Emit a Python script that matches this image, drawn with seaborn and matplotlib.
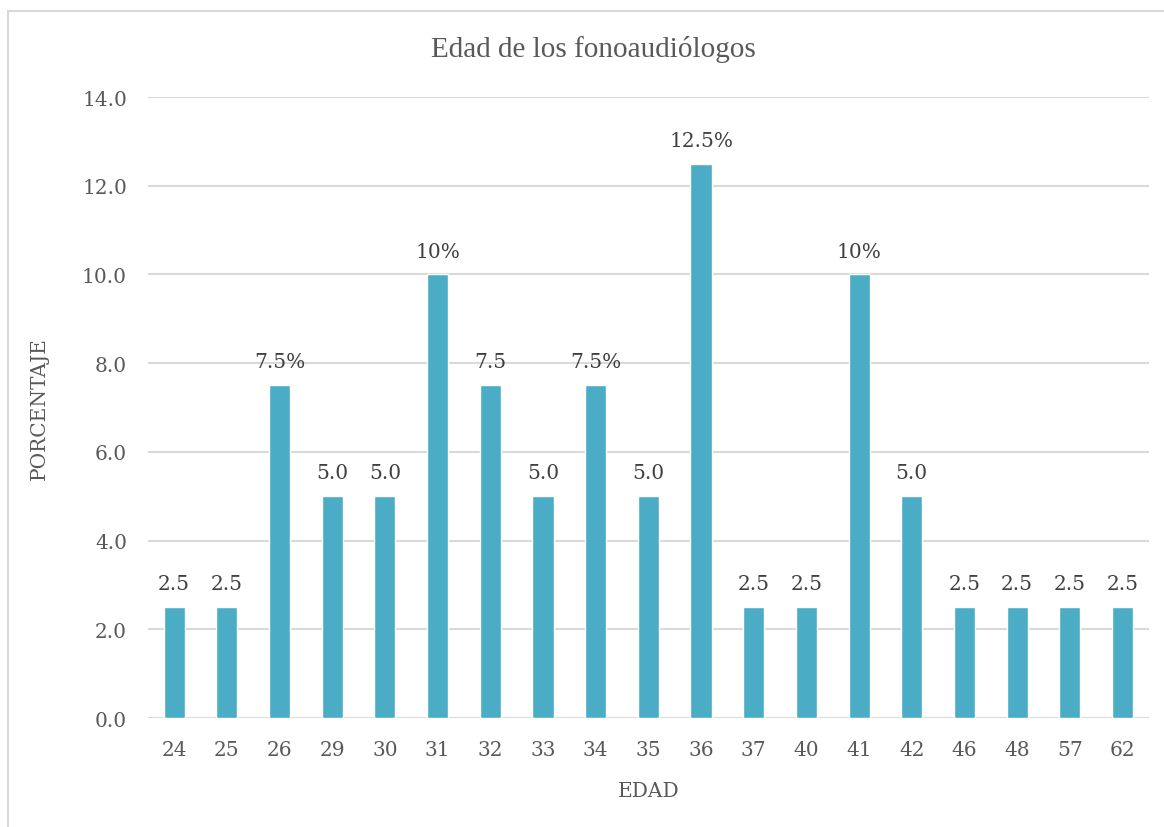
import matplotlib
matplotlib.use('Agg')
import matplotlib.pyplot as plt
import matplotlib.patches as mpatches
import seaborn as sns

# DATA ------------
edades = ['24', '25', '26', '29', '30', '31', '32', '33', '34', '35',
          '36', '37', '40', '41', '42', '46', '48', '57', '62']
porcentajes = [2.5, 2.5, 7.5, 5.0, 5.0, 10.0, 7.5, 5.0, 7.5, 5.0,
               12.5, 2.5, 2.5, 10.0, 5.0, 2.5, 2.5, 2.5, 2.5]
etiquetas = ['2.5', '2.5', '7.5%', '5.0', '5.0', '10%', '7.5', '5.0', '7.5%', '5.0',
             '12.5%', '2.5', '2.5', '10%', '5.0', '2.5', '2.5', '2.5', '2.5']
yticks = [0, 2, 4, 6, 8, 10, 12, 14]

BAR_COLOR = '#4BACC6'
TEXT_COLOR = '#595959'
GRID_COLOR = '#D9D9D9'

sns.set_style('white')
plt.rcParams['font.family'] = ['DejaVu Serif']

fig = plt.figure(figsize=(11.64, 8.28), dpi=100)
ax = fig.add_axes([0.127, 0.1316, 0.86, 0.75])

ax.yaxis.grid(True, color=GRID_COLOR, linewidth=1.5, zorder=0)
ax.set_axisbelow(True)
sns.barplot(x=edades, y=porcentajes, order=edades, color=BAR_COLOR,
            saturation=1, width=0.4, ax=ax, zorder=2)

ax.bar_label(ax.containers[0], labels=etiquetas, padding=10,
             fontsize=14.5, color='#404040')

ax.set_ylim(0, 14)
ax.set_yticks(yticks)
ax.set_yticklabels([f'{v:.1f}' for v in yticks])
ax.set_xlim(-0.5, len(edades) - 0.5)
for s in ax.spines.values():
    s.set_visible(False)
ax.tick_params(axis='both', length=0, labelsize=14.5, colors=TEXT_COLOR)
ax.tick_params(axis='y', pad=15)
ax.tick_params(axis='x', pad=16)

ax.set_xlabel('EDAD', fontsize=14.5, color=TEXT_COLOR, labelpad=16)
ax.set_ylabel('PORCENTAJE', fontsize=14.5, color=TEXT_COLOR, labelpad=24)
fig.text(0.51, 0.94, 'Edad de los fonoaudiólogos', ha='center', va='center',
         fontsize=21, color=TEXT_COLOR, family='Liberation Serif')

# chart border
fig.add_artist(mpatches.Rectangle((8 / 1164, -0.1), 1.2, 1.1 - 12 / 828,
                                  transform=fig.transFigure, fill=False,
                                  edgecolor=GRID_COLOR, linewidth=1.5))

fig.savefig('out.png', dpi=100)
